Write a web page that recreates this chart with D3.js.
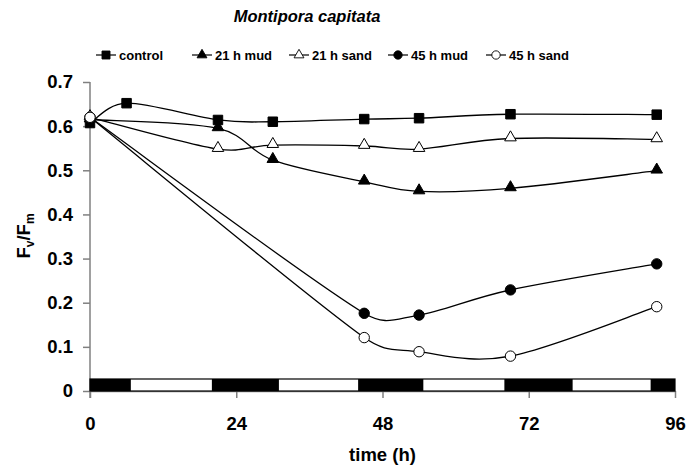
<!DOCTYPE html>
<html>
<head>
<meta charset="utf-8">
<script src="https://cdn.jsdelivr.net/npm/d3@7"></script>
<style>
  html, body { margin: 0; padding: 0; background: #fff; }
  svg { display: block; font-family: "Liberation Sans", Arial, sans-serif; }
</style>
</head>
<body>
<svg id="chart" width="691" height="472"></svg>
<script>
// ---- data ----
const titleText = "Montipora capitata";
const seriesNames = ["control", "21 h mud", "21 h sand", "45 h mud", "45 h sand"];
const controlTime = [0, 6, 21, 30, 45, 54, 69, 93];
const controlVal  = [0.607, 0.652, 0.614, 0.610, 0.616, 0.618, 0.627, 0.626];
const mud21Time = [0, 21, 30, 45, 54, 69, 93];
const mud21Val  = [0.615, 0.595, 0.523, 0.474, 0.452, 0.459, 0.499];
const sand21Time = [0, 21, 30, 45, 54, 69, 93];
const sand21Val  = [0.620, 0.548, 0.557, 0.555, 0.548, 0.572, 0.570];
const mud45Time = [0, 45, 54, 69, 93];
const mud45Val  = [0.620, 0.176, 0.172, 0.229, 0.288];
const sand45Time = [0, 45, 54, 69, 93];
const sand45Val  = [0.620, 0.121, 0.089, 0.079, 0.191];
const darkStart = [0, 20, 44, 68, 92];
const darkEnd   = [6.7, 31, 54.7, 79.2, 96];
const xTicks = [0, 24, 48, 72, 96];
const yTicks = [0, 0.1, 0.2, 0.3, 0.4, 0.5, 0.6, 0.7];
const xLabel = "time (h)";

// ---- layout ----
const svg = d3.select("#chart");
const x = d3.scaleLinear().domain([0, 96]).range([90, 675]);
const y = d3.scaleLinear().domain([0, 0.7]).range([391, 82]);

const series = [
  {name: seriesNames[0], t: controlTime, v: controlVal, shape: "square", fill: "#000"},
  {name: seriesNames[1], t: mud21Time, v: mud21Val, shape: "triangle", fill: "#000"},
  {name: seriesNames[2], t: sand21Time, v: sand21Val, shape: "triangle", fill: "#fff"},
  {name: seriesNames[3], t: mud45Time, v: mud45Val, shape: "circle", fill: "#000"},
  {name: seriesNames[4], t: sand45Time, v: sand45Val, shape: "circle", fill: "#fff"}
];

function symbolFor(shape, size) {
  const type = shape === "square" ? d3.symbolSquare : shape === "triangle" ? d3.symbolTriangle : d3.symbolCircle;
  return d3.symbol().type(type).size(size)();
}
const markerSize = {square: 90, triangle: 58, circle: 85};
const legendSize = {square: 64, triangle: 42, circle: 55};
const triShift = {square: 0, triangle: -1, circle: 0};

// Excel-like smoothed line: Catmull-Rom tangents, with control lengths capped by the adjacent segment length
function smoothPath(pts) {
  const p = d3.path();
  const n = pts.length;
  const dist = (a, b) => Math.hypot(b[0] - a[0], b[1] - a[1]);
  const cap = 0.45;
  p.moveTo(pts[0][0], pts[0][1]);
  for (let i = 0; i < n - 1; i++) {
    const p0 = pts[Math.max(0, i - 1)], p1 = pts[i], p2 = pts[i + 1], p3 = pts[Math.min(n - 1, i + 2)];
    const seg = dist(p1, p2);
    const t1 = [p2[0] - p0[0], p2[1] - p0[1]], l1 = Math.hypot(t1[0], t1[1]) || 1;
    const t2 = [p3[0] - p1[0], p3[1] - p1[1]], l2 = Math.hypot(t2[0], t2[1]) || 1;
    const k1 = Math.min(l1 / 6, cap * seg) / l1;
    const k2 = Math.min(l2 / 6, cap * seg) / l2;
    p.bezierCurveTo(p1[0] + t1[0] * k1, p1[1] + t1[1] * k1,
                    p2[0] - t2[0] * k2, p2[1] - t2[1] * k2, p2[0], p2[1]);
  }
  return p.toString();
}

// axes
const yAxis = d3.axisLeft(y).tickValues(yTicks).tickSize(7).tickSizeOuter(0).tickPadding(10)
  .tickFormat(d => d === 0 ? "0" : d3.format(".1f")(d));
const gy = svg.append("g").attr("transform", "translate(90,0)").call(yAxis);
gy.select(".domain").attr("d", "M0,82V398").attr("stroke", "#808080").attr("stroke-width", 1.5);
gy.selectAll(".tick line").attr("stroke", "#808080").attr("stroke-width", 1.5);
gy.selectAll(".tick text").attr("font-size", 18.5).attr("font-weight", "bold").attr("fill", "#000")
  .attr("font-family", "Liberation Sans, Arial, sans-serif");

const xAxis = d3.axisBottom(x).tickValues(xTicks).tickSize(7).tickSizeOuter(0).tickPadding(19);
const gx = svg.append("g").attr("transform", "translate(0,391)").call(xAxis);
gx.select(".domain").attr("stroke", "#808080").attr("stroke-width", 1.5);
gx.selectAll(".tick line").attr("stroke", "#808080").attr("stroke-width", 1.5);
gx.selectAll(".tick text").attr("font-size", 18.5).attr("font-weight", "bold").attr("fill", "#000")
  .attr("font-family", "Liberation Sans, Arial, sans-serif");

// light/dark bar
const barTop = y(0) - 12;
svg.append("rect").attr("x", x(0)).attr("y", barTop).attr("width", x(96) - x(0)).attr("height", 12)
  .attr("fill", "#fff").attr("stroke", "#000").attr("stroke-width", 1.2);
svg.append("g").selectAll("rect").data(darkStart.map((s, i) => [s, darkEnd[i]])).join("rect")
  .attr("x", d => x(d[0])).attr("y", barTop).attr("width", d => x(d[1]) - x(d[0])).attr("height", 12)
  .attr("fill", "#000");

// lines
svg.append("g").selectAll("path").data(series).join("path")
  .attr("d", s => smoothPath(s.t.map((t, i) => [x(t), y(s.v[i])])))
  .attr("fill", "none").attr("stroke", "#000").attr("stroke-width", 1.3);

// markers
series.forEach(s => {
  svg.append("g").selectAll("path").data(s.t.map((t, i) => [t, s.v[i]])).join("path")
    .attr("transform", d => `translate(${x(d[0])},${y(d[1]) + triShift[s.shape]})`)
    .attr("d", symbolFor(s.shape, markerSize[s.shape]))
    .attr("fill", s.fill).attr("stroke", "#000").attr("stroke-width", 1);
});

// title
svg.append("text").attr("x", 307).attr("y", 22).attr("text-anchor", "middle")
  .attr("font-size", 16.5).attr("font-weight", "bold").attr("font-style", "italic")
  .text(titleText);

// legend
const legendX = [96, 192, 289, 388, 486];
const leg = svg.append("g");
series.forEach((s, i) => {
  const g = leg.append("g").attr("transform", `translate(${legendX[i]},55)`);
  g.append("line").attr("x1", 0).attr("x2", 20).attr("stroke", "#000").attr("stroke-width", 1.2);
  g.append("path").attr("transform", "translate(10,0)")
    .attr("d", symbolFor(s.shape, legendSize[s.shape])).attr("fill", s.fill).attr("stroke", "#000").attr("stroke-width", 0.9);
  g.append("text").attr("x", 23).attr("y", 4.8).attr("font-size", 13).attr("font-weight", "bold")
    .text(s.name);
});

// axis titles
svg.append("text").attr("x", x(48)).attr("y", 461).attr("text-anchor", "middle")
  .attr("font-size", 18.5).attr("font-weight", "bold").text(xLabel);

const yl = svg.append("text").attr("transform", "translate(30,236) rotate(-90)")
  .attr("text-anchor", "middle").attr("font-size", 18.5).attr("font-weight", "bold");
yl.append("tspan").text("F");
yl.append("tspan").attr("font-size", 12).attr("dy", 4).text("v");
yl.append("tspan").attr("dy", -4).text("/F");
yl.append("tspan").attr("font-size", 12).attr("dy", 4).text("m");
</script>
</body>
</html>
